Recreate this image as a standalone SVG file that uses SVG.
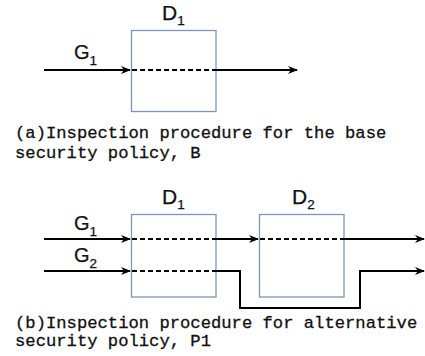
<svg xmlns="http://www.w3.org/2000/svg" width="425" height="356" viewBox="0 0 425 356">
  <defs>
    <marker id="arrow" viewBox="0 0 10 8" refX="9" refY="4" markerWidth="10" markerHeight="8" markerUnits="userSpaceOnUse" orient="auto">
      <path d="M0,0 L10,4 L0,8 L3,4 z" fill="#000"/>
    </marker>
    <style>
      .box { fill: #fff; stroke: #7f95b8; stroke-width: 1.3; }
      .flow { fill: none; stroke: #000; stroke-width: 2; }
      .dash { fill: none; stroke: #000; stroke-width: 2; stroke-dasharray: 5 3; }
      .lbl { font-family: "Liberation Sans", Arial, sans-serif; font-size: 20px; fill: #111; stroke: #111; stroke-width: 0.25; }
      .big { font-size: 21px; }
      .sub { font-size: 13.5px; }
      .cap { font-family: "Liberation Mono", "Courier New", monospace; font-size: 17.2px; fill: #111; stroke: #111; stroke-width: 0.3; }
    </style>
  </defs>

  <rect width="425" height="356" fill="#fff"/>

  <!-- (a) base policy: one stream through D1 -->
  <g id="a-D1">
    <rect class="box" x="131.5" y="30.5" width="84.5" height="81"/>
    <text class="lbl big" x="162" y="20">D<tspan class="sub" dy="5">1</tspan></text>
  </g>
  <g id="a-G1">
    <text class="lbl" x="74" y="59">G<tspan class="sub" dy="6">1</tspan></text>
  </g>
  <g id="a-connectors">
    <line class="flow" x1="44" y1="70" x2="130" y2="70" marker-end="url(#arrow)"/>
    <line class="dash" x1="132" y1="70" x2="216" y2="70"/>
    <line class="flow" x1="216" y1="70" x2="297" y2="70" marker-end="url(#arrow)"/>
  </g>
  <g id="a-caption">
    <text class="cap" x="15" y="138">(a)Inspection procedure for the base</text>
    <text class="cap" x="15" y="158">security policy, B</text>
  </g>

  <!-- (b) alternative policy: G1 through D1 and D2, G2 bypasses D2 -->
  <g id="b-D1">
    <rect class="box" x="131.5" y="214.5" width="84.5" height="82.5"/>
    <text class="lbl big" x="162" y="204">D<tspan class="sub" dy="5">1</tspan></text>
  </g>
  <g id="b-D2">
    <rect class="box" x="259.5" y="214.5" width="84.5" height="82.5"/>
    <text class="lbl big" x="292" y="204">D<tspan class="sub" dy="5">2</tspan></text>
  </g>
  <g id="b-G1">
    <text class="lbl" x="74" y="230">G<tspan class="sub" dy="6">1</tspan></text>
  </g>
  <g id="b-G2">
    <text class="lbl" x="74" y="262">G<tspan class="sub" dy="6">2</tspan></text>
  </g>
  <g id="b-connectors">
    <line class="flow" x1="44" y1="239" x2="130" y2="239" marker-end="url(#arrow)"/>
    <line class="dash" x1="132" y1="239" x2="216" y2="239"/>
    <line class="flow" x1="216" y1="239" x2="258" y2="239" marker-end="url(#arrow)"/>
    <line class="dash" x1="260" y1="239" x2="344" y2="239"/>
    <line class="flow" x1="344" y1="239" x2="424" y2="239" marker-end="url(#arrow)"/>

    <line class="flow" x1="44" y1="271" x2="130" y2="271" marker-end="url(#arrow)"/>
    <line class="dash" x1="132" y1="271" x2="216" y2="271"/>
    <polyline class="flow" points="216,271 240,271 240,308 360,308 360,271 424,271" marker-end="url(#arrow)"/>
  </g>
  <g id="b-caption">
    <text class="cap" x="15" y="328">(b)Inspection procedure for alternative</text>
    <text class="cap" x="15" y="346">security policy, P1</text>
  </g>
</svg>
